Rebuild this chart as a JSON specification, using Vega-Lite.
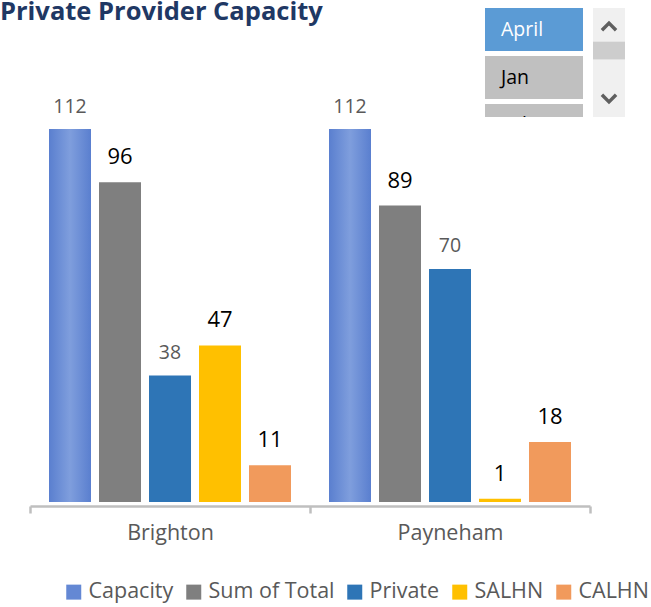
{
  "$schema": "https://vega.github.io/schema/vega-lite/v6.json",
  "padding": 0,
  "bounds": "full",
  "spacing": -21,
  "resolve": {"scale": {"color": "independent"}, "legend": {"color": "independent"}},
  "title": {
    "text": "Private Provider Capacity",
    "anchor": "start",
    "font": "Open Sans",
    "fontSize": 25.5,
    "fontWeight": "bold",
    "color": "#1F3864",
    "offset": -17.5
  },
  "config": {
    "view": {"stroke": null},
    "font": "Open Sans"
  },
  "vconcat": [
    {
      "bounds": "flush",
      "spacing": 10,
      "hconcat": [
        {
          "width": 475,
          "height": 109,
          "data": {"values": []},
          "mark": "text"
        },
        {
          "width": 98,
          "height": 109,
          "data": {
            "values": [
              {"month": "April", "state": "selected"},
              {"month": "Jan", "state": "other"},
              {"month": "Feb", "state": "other"}
            ]
          },
          "encoding": {
            "y": {
              "field": "month",
              "type": "nominal",
              "sort": null,
              "axis": null,
              "scale": {"domain": ["April", "Jan", "Feb"], "range": [0, 139], "paddingInner": 0.104, "paddingOuter": 0}
            }
          },
          "layer": [
            {
              "mark": {"type": "bar", "clip": true},
              "encoding": {
                "color": {
                  "condition": {"test": "datum.state === 'selected'", "value": "#5B9BD5"},
                  "value": "#C0C0C0"
                }
              }
            },
            {
              "mark": {"type": "text", "clip": true, "align": "left", "baseline": "middle", "dx": -33, "fontSize": 19.5, "font": "Open Sans"},
              "encoding": {
                "text": {"field": "month"},
                "color": {
                  "condition": {"test": "datum.state === 'selected'", "value": "#FFFFFF"},
                  "value": "#000000"
                }
              }
            }
          ]
        },
        {
          "width": 32,
          "height": 109,
          "view": {"fill": "#F0F0F0", "stroke": null},
          "data": {
            "values": [
              {"part": "up"},
              {"part": "thumb"},
              {"part": "track"},
              {"part": "down"}
            ]
          },
          "encoding": {
            "y": {
              "field": "part",
              "type": "nominal",
              "sort": null,
              "axis": null,
              "scale": {"domain": ["up", "thumb", "track", "down"], "paddingInner": 0.26, "paddingOuter": 0.41}
            }
          },
          "layer": [
            {
              "transform": [{"filter": "datum.part === 'thumb'"}],
              "mark": {"type": "bar", "color": "#CDCDCD"}
            },
            {
              "transform": [{"filter": "datum.part === 'up'"}],
              "mark": {"type": "point", "shape": "M-1,0.5L0,-0.5L1,0.5", "filled": false, "stroke": "#5F5F5F", "strokeWidth": 3.5, "size": 200, "opacity": 1}
            },
            {
              "transform": [{"filter": "datum.part === 'down'"}],
              "mark": {"type": "point", "shape": "M-1,-0.5L0,0.5L1,-0.5", "filled": false, "stroke": "#5F5F5F", "strokeWidth": 3.5, "size": 200, "opacity": 1}
            }
          ]
        }
      ]
    },
    {
      "bounds": "flush",
      "spacing": 10,
      "hconcat": [
        {
          "width": 20,
          "height": 373,
          "data": {"values": []},
          "mark": "text"
        },
        {
          "width": 560,
          "height": 373,
          "data": {
            "values": [
              {"site": "Brighton", "series": "Capacity", "value": 112},
              {"site": "Brighton", "series": "Sum of Total", "value": 96},
              {"site": "Brighton", "series": "Private", "value": 38},
              {"site": "Brighton", "series": "SALHN", "value": 47},
              {"site": "Brighton", "series": "CALHN", "value": 11},
              {"site": "Payneham", "series": "Capacity", "value": 112},
              {"site": "Payneham", "series": "Sum of Total", "value": 89},
              {"site": "Payneham", "series": "Private", "value": 70},
              {"site": "Payneham", "series": "SALHN", "value": 1},
              {"site": "Payneham", "series": "CALHN", "value": 18}
            ]
          },
          "encoding": {
            "x": {
              "field": "site",
              "type": "nominal",
              "sort": null,
              "scale": {"paddingInner": 0, "paddingOuter": 0},
              "axis": {
                "title": null,
                "labelAngle": 0,
                "labelFont": "Open Sans",
                "labelFontSize": 21.5,
                "labelColor": "#595959",
                "labelPadding": 9,
                "domainColor": "#BFBFBF",
                "domainWidth": 2.5,
                "tickColor": "#BFBFBF",
                "tickWidth": 2.5,
                "tickSize": 7,
                "tickBand": "extent",
                "offset": 4
              }
            },
            "xOffset": {
              "field": "series",
              "type": "nominal",
              "sort": ["Capacity", "Sum of Total", "Private", "SALHN", "CALHN"],
              "scale": {"paddingInner": 0.16, "paddingOuter": 0.38}
            },
            "y": {
              "field": "value",
              "type": "quantitative",
              "scale": {"domain": [0, 112], "nice": false},
              "axis": null
            }
          },
          "layer": [
            {
              "mark": {"type": "bar"},
              "encoding": {
                "color": {
                  "field": "series",
                  "type": "nominal",
                  "scale": {
                    "domain": ["Capacity", "Sum of Total", "Private", "SALHN", "CALHN"],
                    "range": ["#6488D4", "#7F7F7F", "#2E75B6", "#FFC000", "#F19A5C"]
                  },
                  "legend": {
                    "title": null,
                    "orient": "none",
                    "legendX": 63,
                    "legendY": 452,
                    "direction": "horizontal",
                    "columns": 5,
                    "symbolType": "square",
                    "symbolSize": 225,
                    "symbolStrokeWidth": 0,
                    "labelFont": "Open Sans",
                    "labelFontSize": 21.5,
                    "labelColor": "#595959",
                    "labelOffset": 4,
                    "labelLimit": 0,
                    "columnPadding": 9,
                    "padding": 0
                  }
                }
              }
            },
            {
              "transform": [{"filter": "datum.series === 'Capacity'"}],
              "mark": {
                "type": "bar",
                "fill": {
                  "gradient": "linear",
                  "x1": 0, "x2": 1, "y1": 0, "y2": 0,
                  "stops": [
                    {"offset": 0, "color": "#5A7FCF"},
                    {"offset": 0.5, "color": "#7F9EDD"},
                    {"offset": 1, "color": "#5A7FCF"}
                  ]
                }
              }
            },
            {
              "transform": [{"filter": "datum.series === 'Capacity' || datum.series === 'Private'"}],
              "mark": {"type": "text", "baseline": "alphabetic", "dy": -16.5, "fontSize": 19.5, "font": "Open Sans", "color": "#595959"},
              "encoding": {"text": {"field": "value", "type": "quantitative"}}
            },
            {
              "transform": [{"filter": "datum.series !== 'Capacity' && datum.series !== 'Private'"}],
              "mark": {"type": "text", "baseline": "alphabetic", "dy": -18, "fontSize": 22, "font": "Open Sans", "color": "#000000"},
              "encoding": {"text": {"field": "value", "type": "quantitative"}}
            }
          ]
        }
      ]
    }
  ]
}
